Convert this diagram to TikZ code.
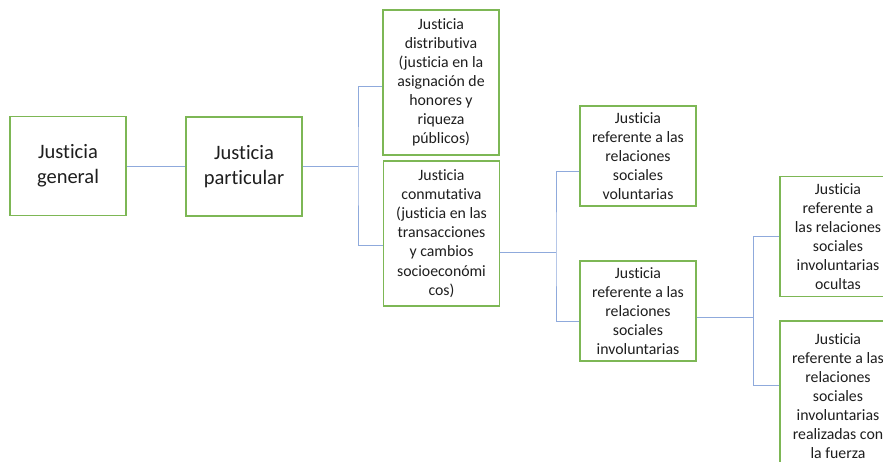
\documentclass[tikz,border=0pt]{standalone}
\usepackage{fontspec}
\setmainfont{Carlito}[Ligatures={NoCommon}]
\definecolor{boxgreen}{RGB}{125,183,85}
\definecolor{connblue}{RGB}{143,170,220}
\definecolor{txt}{RGB}{30,30,30}
\tikzset{
  box/.style={draw=boxgreen, line width=1.2pt, fill=white, align=center, text=txt,
    minimum width=116pt, inner sep=1pt, font=\fontsize{15.8}{19.1}\selectfont},
  bigbox/.style={box, font=\fontsize{20.5}{25}\selectfont},
  conn/.style={draw=connblue, line width=0.9pt}
}
\begin{document}
\begin{tikzpicture}[x=1pt,y=-1pt]
\useasboundingbox (0,0) rectangle (883,461);
\clip (0,0) rectangle (883,461);
\fill[white] (0,0) rectangle (883,461);
% nodes
\node[bigbox, minimum height=99pt] (b1) at (68,166) {Justicia\\general};
\node[bigbox, minimum height=99pt] (b2) at (244,166.5) {Justicia\\particular};
\node[box, minimum height=145pt] (b3) at (441,82.5) {Justicia\\distributiva\\(justicia en la\\asignación de\\honores y\\riqueza\\públicos)};
\node[box, minimum height=145pt] (b4) at (441.5,233.5) {Justicia\\conmutativa\\(justicia en las\\transacciones\\y cambios\\socioeconómi\\cos)};
\node[box, minimum height=100pt] (b5) at (638,156) {Justicia\\referente a las\\relaciones\\sociales\\voluntarias};
\node[box, minimum height=100pt] (b6) at (638,311) {Justicia\\referente a las\\relaciones\\sociales\\involuntarias};
\node[box, minimum height=120pt] (b7) at (838,236.5) {Justicia\\referente a\\las relaciones\\sociales\\involuntarias\\ocultas};
\node[box, minimum height=150pt] (b8) at (838,396) {Justicia\\referente a las\\relaciones\\sociales\\involuntarias\\realizadas con\\la fuerza};
% junctions
\coordinate (j1) at (358,166.5);
\coordinate (j2) at (556,252);
\coordinate (j3) at (753,317);
% connectors
\draw[conn] (b1.east |- j1) -- (b2.west |- j1);
\draw[conn] (b2.east |- j1) -- (j1);
\draw[conn] ([yshift=-3.5pt]b3.west) -| (j1) |- ([yshift=-11.5pt]b4.west);
\draw[conn] (b4.east |- j2) -- (j2);
\draw[conn] ([yshift=-15pt]b5.west) -| (j2) |- ([yshift=-10pt]b6.west);
\draw[conn] (b6.east |- j3) -- (j3);
\draw[conn] (b7.west) -| (j3) |- ([yshift=11pt]b8.west);
\end{tikzpicture}
\end{document}
